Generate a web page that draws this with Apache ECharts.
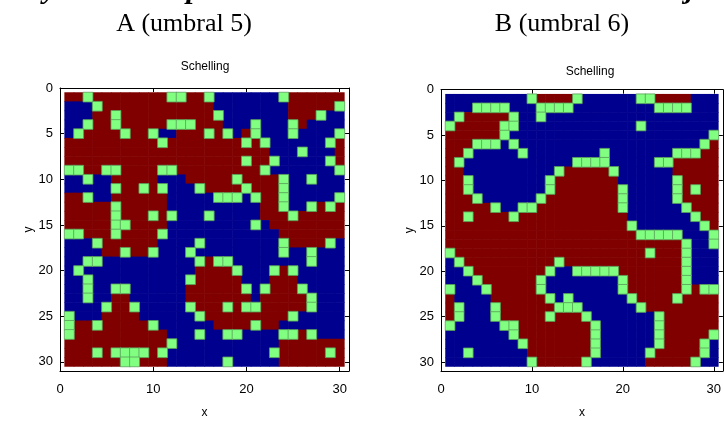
<!DOCTYPE html>
<html><head><meta charset="utf-8">
<script src="https://cdn.jsdelivr.net/npm/echarts@6/dist/echarts.min.js"></script>
<style>html,body{margin:0;padding:0;background:#fff}#c{width:724px;height:424px}</style>
</head><body><div id="c"></div>
<script>
// Cell states: B = blue group, G = empty (light green), R = red group
const gridA = [
"RRGRRRRRRRRGGRRGBBBBBBBGRRRRRR",
"BBBGRRRRRRRRRRRRBBBBBBBBRRRRRG",
"BBBRRGRRRRRRRRRRGBBBBBBBRRRGBB",
"BBGRRGRRRRRGGGRRRBBBGBBBGRBBBB",
"BGRRRRGRRGBBRRRGRGBRGBBBGBBBBG",
"RRRRRRRRRRGRRRRRRRRGRGBBBBBBGR",
"RRRRRRRRRRRRRRRRRRRRRRBBBGBBBR",
"RRRRRRRRRRRRRRRRRRRGRRGBBBBBGR",
"GGRRGGRRRRGGRRRRRRRRRGBBBBBBBG",
"BBGBBRRRRRBBBRRRRRGRRRRGBBGBBB",
"BBBBBGRRGRGBBBGRRRRGRRRGBBBBBB",
"RRGBBRRRRRRBBBBBGGGBGRRGBBBBBG",
"RRRRRGRRRRRBBBBBBBBBBRRGBBGRGR",
"RRRRRGRRRGRGBBBGBBBBBRRRGRRRRR",
"RRRRRGGRRRRBBBBBBBBBGBRRRRRRRR",
"GGRRRGRRRRGBBBBBBBBBBBBRRRRRRR",
"BBBGRRRRRRBBBBGBBBBBBBBGRRRRGB",
"BBBBRRGRRGBBBGBBBBBBBBBGBBGBBB",
"BBGGBBBBBBBBBBGRGGBBBBBBBBGBBB",
"BGBBBBBBBBBBBBRRRRGBBBGRGBBBBB",
"BBGBBBBBBBBBBGRRRRRBBBRRRBBBBB",
"BBGBBGGBBBBBBRRRRRRGBGRRRGBBBB",
"BBGBBRRBBBBBBRRRRRRRBRRRRRGBBB",
"BBBBGRRGBBBBBGRRRGRGGRRRRRGBBB",
"GBBBRRRRBBBBBBGRRRRRRRRRGBBBBB",
"GRRGRRRRRGBBBBBBRRRRGRRBBBBBBB",
"GRRRRRRRRRRBBBGBBGGBBBBGGRGBBB",
"RRRRRRRRRRRGBBBBBBBBBBBRRRRRRR",
"RRRGRGGGGRGBBBBBBBBBBBGRRRRRGR",
"RRRRRRGGRRRBBBBBBGBBBBBRRRRRRR"
];
const gridB = [
"BBBBBBBBBGRRRRGBBBBBBGGRRRRBBB",
"BBBGGGGBBBGGGGBBBBBBBBBGGGGBBB",
"BGRRRRRGBBGBBBBBBBBBBBBBBBBBBB",
"GRRRRRGGBBBBBBBBBBBBBGBBBBBBBB",
"RRRRRRGBBBBBBBBBBBBBBBBBBBBBBG",
"RRRGGGBGBBBBBBBBBBBBBBBBBBBBGR",
"RRGBBBBBGBBBBBBBBGBBBBBBBGGGRR",
"RGBBBBBBBBBBBBGGGGBBBBBGGRRRRR",
"RRBBBBBBBBBBGRRRRRGBBBBBBRRRRR",
"RRGBBBBBBBBGRRRRRRRBBBBBBGRRRR",
"RRGBBBBBBBBGRRRRRRRGBBBBBGRGRR",
"RRRGBBBBBBGRRRRRRRRGBBBBBGRRRR",
"RRRRRGBBGGRRRRRRRRRGBBBBBBGRRR",
"RRGRRRRGRRRRRRRRRRRRBBBBBBBGRR",
"RRRRRRRRRRRRRRRRRRRRGBBBBBBBGR",
"RRRRRRRRRRRRRRRRRRRRRGGGGGBBBG",
"RRRRRRRRRRRRRRRRRRRRRRRRRRGBBG",
"GRRRRRRRRRRRRRRRRRRRRRGRRRGBBB",
"BGRRRRRRRRRRGRRRRRRRRRRRRRGBBB",
"BBGRRRRRRRRGBBGGGGGRRRRRRRGBBB",
"BBBGRRRRRRGBBBBBBBBGRRRRRRGBBB",
"GBBBGRRRRRGBBBBBBBBGRRRRRRGRGG",
"RBBBBRRRRRRGBGBBBBBBGRRRRGRRRR",
"RGBBBGRRRRRRGGGBBBBBBGRRRRRRRR",
"RGBBBGRRRRRGRRRGBBBBBBBGRRRRRR",
"GBBBBBGGRRRRRRRRGBBBBBBGRRRRRR",
"BBBBBBBGRRRRRRRRGBBBBBBGRRRRRG",
"BBBBBBBBGRRRRRRRGBBBBBBGRRRRGB",
"BBGBBBBBBRRRRRRRGBBBBBGRRRRRGB",
"BBBBBBBBBGRRRRRGBBBBBBRRRRRGBB"
];
const stateCodes = ['B', 'G', 'R'];
const xTicks = [0, 10, 20, 30];
const yTicks = [0, 5, 10, 15, 20, 25, 30];
const panelTitles = ['A (umbral 5)', 'B (umbral 6)'];
const plotTitle = 'Schelling';
const xName = 'x';
const yName = 'y';
// lower parts of a bold italic heading line that is cut off at the top edge
const cutHeadingGlyphs = [['y', 50], ['p', 194], ['j', 690]];

const stateFill = ['#00008F', '#80FF80', '#800000'];

function toData(rows) {
  const d = [];
  rows.forEach((row, r) => {
    for (let c = 0; c < row.length; c++) d.push([c + 1, r + 1, stateCodes.indexOf(row[c])]);
  });
  return d;
}

function renderCell(params, api) {
  const x = api.value(0), y = api.value(1), s = api.value(2);
  const p0 = api.coord([x - 0.5, y - 0.5]);
  const p1 = api.coord([x + 0.5, y + 0.5]);
  const pad = 0.3;
  const rect = {
    x: Math.min(p0[0], p1[0]) - pad, y: Math.min(p0[1], p1[1]) - pad,
    width: Math.abs(p1[0] - p0[0]) + 2 * pad, height: Math.abs(p1[1] - p0[1]) + 2 * pad
  };
  if (s === 1) {
    return { type: 'rect', shape: rect, z2: 2, style: { fill: stateFill[s], stroke: '#5a9e5a', lineWidth: 0.8 } };
  }
  return { type: 'rect', shape: rect, z2: 1, style: { fill: stateFill[s] } };
}

const fontFam = 'Liberation Sans, Arial, sans-serif';
const tickFont = { fontFamily: fontFam, fontSize: 13, color: '#000' };
const lineStyle = { color: '#000', width: 1 };

function xAxes(gi, showLabels) {
  return {
    type: 'value', gridIndex: gi, min: 0, max: 31, interval: 10,
    position: showLabels ? 'bottom' : 'top',
    name: showLabels ? xName : '', nameLocation: 'middle', nameGap: 36,
    nameTextStyle: Object.assign({}, tickFont, { fontSize: 12 }),
    axisLine: { show: true, onZero: false, lineStyle },
    axisTick: { show: true, inside: true, length: 4, lineStyle, customValues: xTicks },
    axisLabel: showLabels ? Object.assign({ margin: 12, customValues: xTicks, formatter: v => xTicks.includes(v) ? String(v) : '' }, tickFont) : { show: false },
    splitLine: { show: false }
  };
}
function yAxes(gi, showLabels) {
  return {
    type: 'value', gridIndex: gi, min: 0, max: 31, interval: 5, inverse: true,
    position: showLabels ? 'left' : 'right',
    name: showLabels ? yName : '', nameLocation: 'middle', nameGap: 21,
    nameTextStyle: Object.assign({}, tickFont, { fontSize: 12 }),
    axisLine: { show: true, onZero: false, lineStyle },
    axisTick: { show: true, inside: true, length: 4, lineStyle, customValues: yTicks },
    axisLabel: showLabels ? Object.assign({ margin: 7, customValues: yTicks, formatter: v => yTicks.includes(v) ? String(v) : '' }, tickFont) : { show: false },
    splitLine: { show: false }
  };
}

const graphics = [
  { type: 'text', x: 184, y: 24, style: { text: panelTitles[0], fontFamily: 'Liberation Serif, serif', fontSize: 26, fill: '#000', textAlign: 'center', textVerticalAlign: 'middle' } },
  { type: 'text', x: 562, y: 24, style: { text: panelTitles[1], fontFamily: 'Liberation Serif, serif', fontSize: 26, fill: '#000', textAlign: 'center', textVerticalAlign: 'middle' } },
  { type: 'text', x: 205, y: 67, style: { text: plotTitle, fontFamily: fontFam, fontSize: 12, fill: '#000', textAlign: 'center', textVerticalAlign: 'middle' } },
  { type: 'text', x: 590, y: 72, style: { text: plotTitle, fontFamily: fontFam, fontSize: 12, fill: '#000', textAlign: 'center', textVerticalAlign: 'middle' } }
];
cutHeadingGlyphs.forEach(([g, gx]) => {
  graphics.push({ type: 'text', x: gx, y: -25, style: { text: g, fontFamily: 'Liberation Serif, serif', fontWeight: 'bold', fontStyle: 'italic', fontSize: 30, fill: '#000', textAlign: 'center', textVerticalAlign: 'top' } });
});

const chart = echarts.init(document.getElementById('c'), null, { renderer: 'canvas' });
chart.setOption({
  animation: false,
  backgroundColor: '#fff',
  grid: [
    { left: 60, top: 88, width: 289, height: 288 },
    { left: 441, top: 89.7, width: 286, height: 284 }
  ],
  xAxis: [xAxes(0, true), xAxes(0, false), xAxes(1, true), xAxes(1, false)],
  yAxis: [yAxes(0, true), yAxes(0, false), yAxes(1, true), yAxes(1, false)],
  series: [
    { type: 'custom', xAxisIndex: 0, yAxisIndex: 0, renderItem: renderCell, data: toData(gridA), encode: { x: 0, y: 1 }, z: 1 },
    { type: 'custom', xAxisIndex: 2, yAxisIndex: 2, renderItem: renderCell, data: toData(gridB), encode: { x: 0, y: 1 }, z: 1 }
  ],
  graphic: graphics
});
</script></body></html>
